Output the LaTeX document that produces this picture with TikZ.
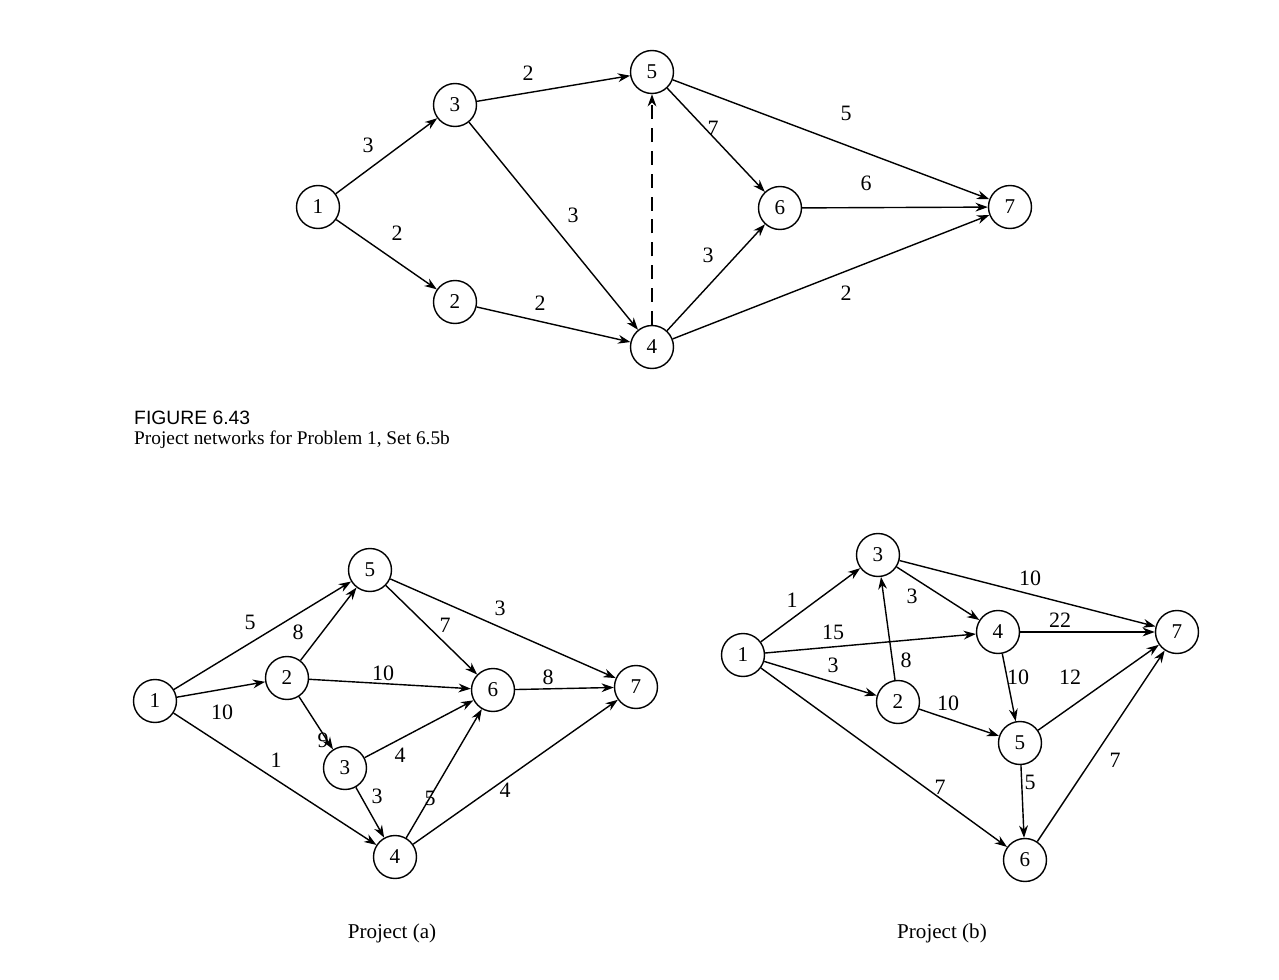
\documentclass[tikz,border=0pt]{standalone}
\usepackage{fontspec}
\setmainfont{Liberation Serif}
\newfontfamily\capfont{Liberation Sans}
\usetikzlibrary{arrows.meta}
\begin{document}
\begin{tikzpicture}[x=0.02cm,y=-0.02cm,
 nd/.style={draw,circle,thick,minimum size=0.86cm,inner sep=0pt,font=\fontsize{12}{14}\selectfont},
 ar/.style={thick,-{Stealth[length=7pt,width=5pt]}},
 lb/.style={font=\fontsize{12.5}{14}\selectfont}]
\useasboundingbox (0,0) rectangle (1279,980);
% top
\node[nd] (t1) at (318,207) {1};
\node[nd] (t3) at (455,105) {3};
\node[nd] (t5) at (652,72) {5};
\node[nd] (t2) at (455,302) {2};
\node[nd] (t4) at (652,347) {4};
\node[nd] (t6) at (780,208) {6};
\node[nd] (t7) at (1010,207) {7};
\draw[ar] (t1)--(t3); \draw[ar] (t1)--(t2); \draw[ar] (t3)--(t5); \draw[ar] (t3)--(t4);
\draw[ar] (t2)--(t4); \draw[ar,dashed,dash pattern=on 8pt off 5pt] (t4)--(t5); \draw[ar] (t5)--(t6);
\draw[ar] (t5)--(t7); \draw[ar] (t6)--(t7); \draw[ar] (t4)--(t6); \draw[ar] (t4)--(t7);
\node[lb] (l1) at (368,145) {3}; \node[lb] (l2) at (397,233) {2}; \node[lb] (l3) at (528,73) {2};
\node[lb] (l4) at (573,215) {3}; \node[lb] (l5) at (540,303) {2}; \node[lb] (l6) at (713,128) {7};
\node[lb] (l7) at (846,113) {5}; \node[lb] (l8) at (866,183) {6}; \node[lb] (l9) at (708,255) {3};
\node[lb] (l10) at (846,293) {2};
\node[anchor=west,font=\capfont\fontsize{11}{13}\selectfont] (cap1) at (128,418) {FIGURE 6.43};
\node[anchor=west,font=\fontsize{11}{13}\selectfont] (cap2) at (128,440) {Project networks for Problem 1, Set 6.5b};
% a
\node[nd] (a1) at (155,701) {1};
\node[nd] (a5) at (370,570) {5};
\node[nd] (a2) at (287,678) {2};
\node[nd] (a6) at (493,690) {6};
\node[nd] (a7) at (636,687) {7};
\node[nd] (a3) at (345,768) {3};
\node[nd] (a4) at (395,857) {4};
\foreach \s/\t in {a1/a5,a1/a2,a1/a4,a2/a5,a2/a6,a2/a3,a3/a6,a3/a4,a4/a6,a4/a7,a5/a6,a5/a7,a6/a7} \draw[ar] (\s)--(\t);
\node[lb] (m1) at (250,622) {5}; \node[lb] (m2) at (222,712) {10}; \node[lb] (m3) at (276,760) {1};
\node[lb] (m4) at (298,632) {8}; \node[lb] (m5) at (383,673) {10}; \node[lb] (m6) at (323,740) {9};
\node[lb] (m7) at (400,755) {4}; \node[lb] (m8) at (377,796) {3}; \node[lb] (m9) at (430,798) {5};
\node[lb] (m10) at (505,790) {4}; \node[lb] (m11) at (445,625) {7}; \node[lb] (m12) at (500,608) {3};
\node[lb] (m13) at (548,677) {8};
\node[font=\fontsize{12}{14}\selectfont] (ca) at (392,933) {Project (a)};
% b
\node[nd] (b1) at (743,655) {1};
\node[nd] (b3) at (878,555) {3};
\node[nd] (b4) at (998,632) {4};
\node[nd] (b7) at (1177,632) {7};
\node[nd] (b2) at (898,702) {2};
\node[nd] (b5) at (1020,743) {5};
\node[nd] (b6) at (1025,860) {6};
\foreach \s/\t in {b1/b3,b1/b4,b1/b2,b1/b6,b3/b4,b3/b7,b2/b3,b2/b5,b4/b7,b4/b5,b5/b7,b5/b6,b6/b7} \draw[ar] (\s)--(\t);
\node[lb] (n1) at (792,600) {1}; \node[lb] (n2) at (833,632) {15}; \node[lb] (n3) at (833,665) {3};
\node[lb] (n4) at (940,787) {7}; \node[lb] (n5) at (912,596) {3}; \node[lb] (n6) at (1030,578) {10};
\node[lb] (n7) at (906,660) {8}; \node[lb] (n8) at (948,703) {10}; \node[lb] (n9) at (1060,620) {22};
\node[lb] (n10) at (1018,677) {10}; \node[lb] (n11) at (1070,677) {12}; \node[lb] (n12) at (1030,782) {5};
\node[lb] (n13) at (1115,760) {7};
\node[font=\fontsize{12}{14}\selectfont] (cb) at (942,933) {Project (b)};
\end{tikzpicture}
\end{document}
